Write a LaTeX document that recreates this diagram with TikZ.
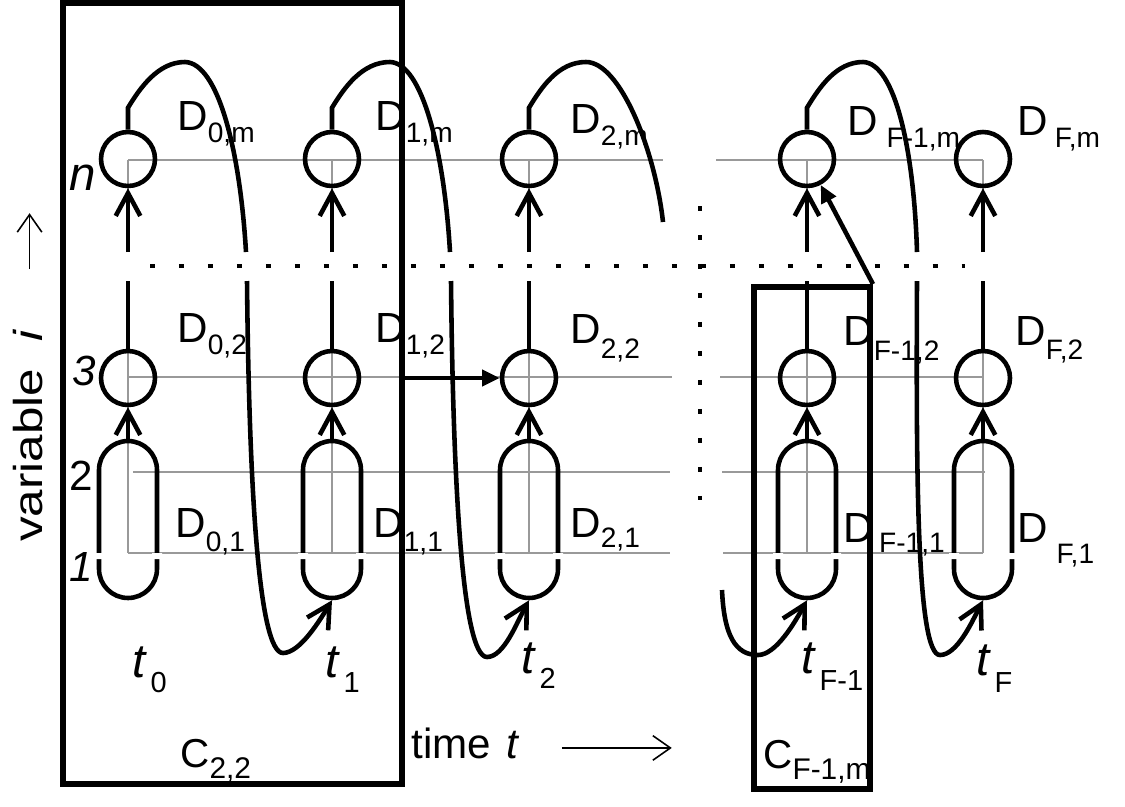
\documentclass[tikz,border=0pt]{standalone}
\usepackage{fontspec}
\setmainfont{Liberation Sans}
\usetikzlibrary{arrows.meta,positioning,calc}

\newcommand{\dsub}[2][7pt]{\raisebox{-#1}{\fontsize{16}{16}\selectfont #2}}
\newcommand{\tsub}[2][9pt]{\hspace{2pt}\raisebox{-#1}{\fontsize{16.5}{16.5}\selectfont #2}}
\newcommand{\csub}[2][6.5pt]{\raisebox{-#1}{\fontsize{17}{17}\selectfont #2}}

\begin{document}
\begin{tikzpicture}[
    x=0.02cm, y=-0.02cm,
    var/.style={circle, draw=black, line width=2.6pt, minimum size=1.08cm, inner sep=0pt},
    pair/.style={rectangle, draw=black, line width=2.6pt, minimum width=1.16cm, minimum height=3.14cm, rounded corners=0.58cm, inner sep=0pt},
    frame/.style={rectangle, draw=black, line width=3.4pt, inner sep=0pt},
    grid/.style={draw=black!40, line width=0.8pt},
    link/.style={line width=2.6pt},
    flow/.style={line width=2.6pt, -{Straight Barb[length=13pt,width=14pt]}},
    feed/.style={line width=2.6pt, -{Triangle[length=10pt,width=9pt]}},
    dots/.style={line width=2.8pt, dash pattern=on 2.8pt off 13.7pt},
    axarrow/.style={line width=0.9pt, -{Straight Barb[length=10pt,width=14pt]}},
    dlab/.style={font=\fontsize{24}{24}\selectfont, inner sep=0pt, anchor=base west},
    tlab/.style={font=\fontsize{27}{27}\selectfont, inner sep=0pt, anchor=base west},
    clab/.style={font=\fontsize{23}{23}\selectfont, inner sep=0pt, anchor=base west},
    rowlab/.style={font=\fontsize{24}{24}\selectfont, inner sep=0pt, anchor=base east},
    axis/.style={font=\fontsize{23}{23}\selectfont, inner sep=0pt}
]
\useasboundingbox (0,0) rectangle (1125,806);

% Grid
\foreach \y/\a/\b/\p/\q in {160/128/663/716/983, 377/128/672/720/983, 472/133/670/722/985, 553/128/670/723/983}
    \draw[grid] (\a,\y) -- (\b,\y) (\p,\y) -- (\q,\y);
\foreach \x in {128,332,529,807,983}
    \draw[grid] (\x,160) -- (\x,252) (\x,281) -- (\x,553);

% Variables
\foreach \c/\x in {0/128, 1/332, 2/529, F1/807, F/983} {
    \node[var] (top\c) at (\x,159) {};
    \node[var] (mid\c) at (\x,378) {};
    \node[pair] (cap\c) at (\x,519.5) {};
    \fill[white] (\x-34,553) rectangle (\x-24,559) (\x+24,553) rectangle (\x+34,559);
}

% Links inside a column
\coordinate (gaphi) at (0,252);
\coordinate (gaplo) at (0,281);
\foreach \c in {0,1,2,F1,F} {
    \draw[flow] (cap\c.north) -- (mid\c.south);
    \draw[link] (mid\c.north) -- (mid\c.north |- gaplo);
    \draw[flow] (top\c.south |- gaphi) -- (top\c.south);
}

% Dotted rows
\draw[dots] (150,266) -- (965,266);
\draw[dots] (700,206) -- (700,500);

% Labels
\node[dlab] (d0m) at (177,130) {D\dsub{0,m}};
\node[dlab] (d1m) at (375,130) {D\dsub{1,m}};
\node[dlab] (d2m) at (570,133) {D\dsub{2,m}};
\node[dlab] (dF1m) at (847,135) {D\hspace{5pt}\dsub{F-1,m}};
\node[dlab] (dFm) at (1017,135) {D\hspace{4pt}\dsub{F,m}};
\node[dlab] (d02) at (177,342) {D\dsub{0,2}};
\node[dlab] (d12) at (375,342) {D\dsub{1,2}};
\node[dlab] (d22) at (570,343) {D\dsub[9pt]{2,2}};
\node[dlab] (dF12) at (843,345) {D\dsub[9pt]{F-1,2}};
\node[dlab] (dF2) at (1015,345) {D\dsub[8.5pt]{F,2}};
\node[dlab] (d01) at (175,537) {D\dsub[8pt]{0,1}};
\node[dlab] (d11) at (373,537) {D\dsub[8pt]{1,1}};
\node[dlab] (d21) at (570,537) {D\dsub[6pt]{2,1}};
\node[dlab] (dF11) at (843,542) {D\hspace{3pt}\dsub[6pt]{F-1,1}};
\node[dlab] (dF1) at (1017,542) {D\hspace{5pt}\dsub[12pt]{F,1}};

\node[tlab] (t0) at (132,677) {\textit{t}\tsub{0}};
\node[tlab] (t1) at (325,677) {\textit{t}\tsub{1}};
\node[tlab] (t2) at (521,673) {\textit{t}\tsub{2}};
\node[tlab] (tF1) at (801,673) {\textit{t}\tsub[10pt]{F-1}};
\node[tlab] (tF) at (976,675) {\textit{t}\tsub[10pt]{F}};

\node[rowlab, font=\fontsize{27}{27}\selectfont] (rown) at (96,190) {\textit{n}};
\node[rowlab] (row3) at (96,385) {\textit{3}};
\node[rowlab] (row2) at (93,490) {2};
\node[rowlab] (row1) at (93,581) {\textit{1}};

\node[axis, rotate=90, anchor=base west] (vlabel) at (42,542) {\scalebox{1.22}[1]{variable\ \ \textit{i}}};
\draw[axarrow] ($(vlabel.east)+(2,-60)$) -- ++(0,-56);
\node[axis, font=\fontsize{24}{24}\selectfont, anchor=base west] (tlabel) at (411,758) {time\ \hspace{2pt}\textit{t}};
\draw[axarrow] ($(tlabel.east)+(42,5)$) -- ++(110,0);

% Loops from D_{k,m} to D_{k+1,1}
\coordinate (cut0a) at (246,252);
\coordinate (cut0b) at (247,281);
\draw[link] (top0.north) -- ++(0,-22) .. controls (140,88) and (158,62) .. (185,62) .. controls (218,63) and (240,150) .. (cut0a);
\draw[flow] (cut0b) .. controls (249,480) and (258,653) .. (283,653) .. controls (300,653) and (320,620) .. (cap1.south);

\coordinate (cut1a) at (450,252);
\coordinate (cut1b) at (451,281);
\draw[link] (top1.north) -- ++(0,-22) .. controls (344,88) and (362,62) .. (390,62) .. controls (422,63) and (444,150) .. (cut1a);
\draw[flow] (cut1b) .. controls (453,480) and (462,657) .. (487,657) .. controls (504,657) and (517,622) .. (cap2.south);

\coordinate (cut2) at (663,222);
\draw[link] (top2.north) -- ++(0,-22) .. controls (541,88) and (558,62) .. (586,62) .. controls (620,62) and (655,150) .. (cut2);

\coordinate (tailF1) at (722,590);
\draw[flow] (tailF1) .. controls (724,635) and (735,655) .. (758,655) .. controls (776,655) and (795,622) .. (capF1.south);

\coordinate (cutF1a) at (917,252);
\coordinate (cutF1b) at (917,281);
\draw[link] (topF1.north) -- ++(0,-22) .. controls (819,88) and (836,62) .. (863,62) .. controls (895,63) and (914,150) .. (cutF1a);
\draw[flow] (cutF1b) .. controls (916,480) and (917,655) .. (940,655) .. controls (957,655) and (972,622) .. (capF.south);

% Frames
\node[frame, minimum width=6.78cm, minimum height=15.62cm] (box22) at (232.5,393.5) {};
\node[frame, minimum width=2.32cm, minimum height=10.04cm] (boxF1m) at (812,538) {};
\node[clab] (c22) at (180,767) {C\csub{2,2}};
\node[clab] (cF1m) at (763,768) {C\csub{F-1,m}};

\draw[feed] (box22.east |- mid2) -- (mid2.west);
\draw[feed] (boxF1m.north east) -- (topF1);

\end{tikzpicture}
\end{document}
